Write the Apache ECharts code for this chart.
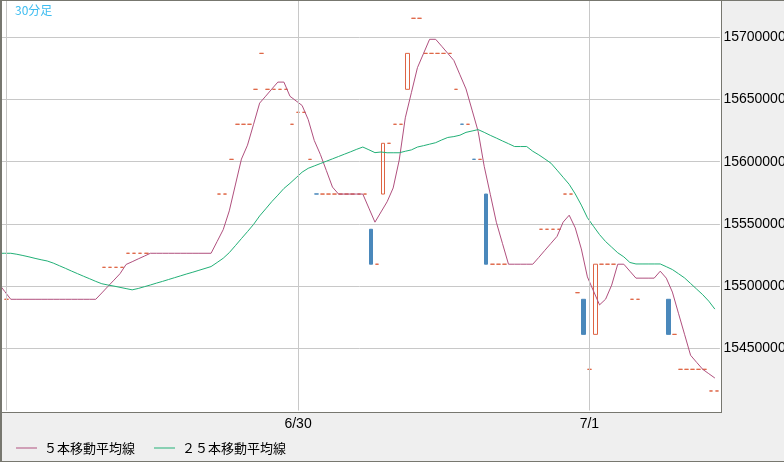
<!DOCTYPE html>
<html><head><meta charset="utf-8">
<script src="https://cdn.jsdelivr.net/npm/echarts@6/dist/echarts.min.js"></script>
<style>html,body{margin:0;padding:0;background:#efefef}#c{width:784px;height:462px}</style>
</head><body><div id="c"></div>
<script>
// 30-minute bars, 6/28 23:30 .. 7/1 10:30 (119 bars)
function pad(n){return (n<10?'0':'')+n;}
const startTime = Date.UTC(2025,5,28,23,30);
const categories = [];
for (let i=0;i<119;i++){const d=new Date(startTime+i*1800000);categories.push((d.getUTCMonth()+1)+'/'+d.getUTCDate()+' '+pad(d.getUTCHours())+':'+pad(d.getUTCMinutes()));}
const tickCats = ['6/30 00:00','7/1 00:00'];
const gridCats = ['6/29 00:00','6/30 00:00','7/1 00:00'];
const yTicks = [15450000,15500000,15550000,15600000,15650000,15700000];

const N = null;
const opens = [N,15489400,
N,N,N,N,N,N,N,N,N,N,N,N,N,N,N,
15515100,15515100,15515100,15515100,
15526400,15526400,15526400,15526400,
N,N,N,N,N,N,N,N,N,N,N,
15574000,15574000,15601900,15630100,15630100,15630100,15658200,
15687100,15658200,15658200,15658200,15658200,15630100,
15639700,15639700,15601900,15574100,15574000,15574000,15574000,15574000,15574000,15574000,15574000,15574000,
15545700,15517600,15574000,15614800,15630100,15630100,15658200,15715300,15715300,
15687100,15687100,15687100,15687100,15687100,15658200,15630200,15630100,15602000,15601900,
15574000,15517600,15517600,15517600,N,N,N,N,N,
15545700,15545700,15545700,15545700,15574000,15574000,15494700,15489400,15433100,15461200,
15517600,15517600,15517600,N,N,15489400,15489400,N,N,N,N,
15489400,15461200,15433100,15433100,15433100,15433100,15433100,15415700,15415700];
const closes = [N,15489400,
N,N,N,N,N,N,N,N,N,N,N,N,N,N,N,
15515100,15515100,15515100,15515100,
15526400,15526400,15526400,15526400,
N,N,N,N,N,N,N,N,N,N,N,
15574000,15574000,15601900,15630100,15630100,15630100,15658200,
15687100,15658200,15658200,15658200,15658200,15630100,
15639700,15639700,15601900,15574000,15574000,15574000,15574000,15574000,15574000,15574000,15574000,15574000,
15517600,15517600,15614800,15614800,15630100,15630100,15687100,15715300,15715300,
15687100,15687100,15687100,15687100,15687100,15658200,15630100,15630100,15601900,15601900,
15517600,15517600,15517600,15517600,N,N,N,N,N,
15545700,15545700,15545700,15545700,15574000,15574000,15494700,15461200,15433100,15517600,
15517600,15517600,15517600,N,N,15489400,15489400,N,N,N,N,
15461200,15461200,15433100,15433100,15433100,15433100,15433100,15415700,15415700];
const ma5 = [15502100,15495700,
15489400,15489400,15489400,15489400,15489400,15489400,15489400,15489400,15489400,15489400,15489400,15489400,15489400,15489400,15489400,
15494500,15499700,15504800,15510000,
15517400,15519600,15521900,15524100,
15526400,15526400,15526400,15526400,15526400,15526400,15526400,15526400,15526400,15526400,15526400,
15535900,15545400,15560500,15581300,15602100,15613300,15630100,
15647100,15652700,15658400,15664000,15664000,15652600,
15648900,15645200,15633900,15617100,15605900,15592800,15579600,
15574000,15574000,15574000,15574000,15574000,
15562700,15551400,15559600,15567800,15578900,15601400,15635300,15655500,15675600,15687000,15698400,15698400,15692800,15687100,15681400,15669900,15658500,15641500,15624400,15596300,15573800,15551300,15534400,
15517600,15517600,15517600,15517600,15517600,
15523100,15528800,15534400,15540000,15551400,15557000,15546800,15529900,15507400,15496100,15484900,15489500,15500800,15517600,15517600,15512000,
15506400,15506400,15506400,15506400,
15512000,15506400,15495200,15478200,15461300,15444400,15438700,15433100,15429600,15426100];
const ma25 = [15526400,15526400,15526400,15525600,15524600,15523500,15522300,15521200,15520200,15518500,
15516400,15514300,15512100,15510000,15507900,15505900,15503800,15501900,15500900,15500000,
15499000,15498000,15497000,15498100,15499500,15500900,15502400,15503800,15505300,15506800,
15508300,15509800,15511200,15512700,15514200,15515700,15519000,15522400,15526900,15532500,
15538200,15543800,15549600,15556400,15562100,15567900,15573100,15578500,15582600,15587100,
15591600,15594700,15596600,15598500,15600400,15602300,15604200,15606100,15608000,15610000,
15611800,15609600,15607300,15607800,15607200,15607200,15607200,15608400,15609500,15611800,
15612900,15614100,15615300,15617500,15619500,15620200,15621300,15623600,15624700,15625800,
15623600,15621200,15619000,15616700,15614500,15612200,15612200,15612200,15608400,15605500,
15602200,15598800,15593200,15587500,15581800,15574100,15565100,15555000,15548100,15541400,
15535800,15531300,15526800,15523500,15519000,15517800,15517800,15517800,15517800,15517800,
15515600,15513300,15510000,15506600,15502100,15497600,15493100,15487900,15481500];

const ORANGE = '#de6444', BLUE = '#4a88bb', PINK = '#b0507e', GREEN = '#22b077';
const candleData = opens.map(function(o,i){
  const c = closes[i];
  if (o === null) return '-';
  const v = [o, c, Math.min(o,c), Math.max(o,c)];
  if (o === c) return {value: v, itemStyle: {borderColor: ORANGE, borderColor0: ORANGE, color: 'rgba(0,0,0,0)', color0: 'rgba(0,0,0,0)'}};
  return v;
});

const FONT_UI = 'Noto Sans CJK JP';
const chart = echarts.init(document.getElementById('c'), null, {renderer:'canvas'});
chart.setOption({
  animation: false,
  backgroundColor: '#efefef',
  title: {text: '30分足', left: 15, top: 4, padding: 0, textStyle: {color: '#3cbcf0', fontSize: 12, fontWeight: 'normal', fontFamily: FONT_UI}},
  legend: {data: [{name:'５本移動平均線', itemStyle:{color:PINK}}, {name:'２５本移動平均線', itemStyle:{color:GREEN}}],
    left: 16, top: 441.5, padding: 0, icon: 'rect', itemWidth: 21, itemHeight: 1, itemGap: 19,
    textStyle: {color: '#000', fontSize: 13, fontFamily: FONT_UI, padding: [0,0,0,2]}},
  graphic: [
    {type:'rect', z:-1, silent:true, shape:{x:2,y:1,width:719.5,height:411.5}, style:{fill:'#fff'}},
    {type:'rect', z:100, silent:true, shape:{x:0,y:0,width:2,height:462}, style:{fill:'#77776f'}},
    {type:'rect', z:100, silent:true, shape:{x:0,y:0,width:784,height:1}, style:{fill:'#77776f'}},
    {type:'rect', z:100, silent:true, shape:{x:721,y:0,width:1,height:413}, style:{fill:'#77776f'}},
    {type:'rect', z:100, silent:true, shape:{x:0,y:412,width:722,height:1}, style:{fill:'#77776f'}},
    {type:'rect', z:100, silent:true, shape:{x:0,y:461,width:784,height:1}, style:{fill:'#77776f'}}
  ],
  grid: [
    {left: -2.4, right: 64.1, top: 0, bottom: 51.5, containLabel: false, outerBoundsMode: 'none'},
    {left: -4.4, right: 66.1, top: 0, bottom: 51.5, containLabel: false, outerBoundsMode: 'none'}
  ],
  xAxis: [
    {type:'category', gridIndex:0, data: categories, boundaryGap: true,
      axisLine:{show:false}, axisTick:{show:false}, splitLine:{show:false},
      axisLabel:{interval: function(i, v){return tickCats.indexOf(v) >= 0;}, formatter: function(v){return v.split(' ')[0];},
        color:'#000', fontSize:14, fontFamily:'Liberation Sans', margin:7}},
    {type:'category', gridIndex:1, data: categories, boundaryGap: true, show:false}
  ],
  yAxis: [
    {type:'value', gridIndex:0, position:'right', min:15400000, max:15730000, interval:50000, scale:true,
      axisLine:{show:false}, axisTick:{show:false},
      splitLine:{show:true, lineStyle:{color:['rgba(0,0,0,0)','#c8c8c8','#c8c8c8','#c8c8c8','#c8c8c8','#c8c8c8','#c8c8c8','rgba(0,0,0,0)'], width:1}},
      axisLabel:{showMinLabel:false, showMaxLabel:false, color:'#000', fontSize:14, fontFamily:'Liberation Sans', margin:3.5,
        formatter: function(v){return yTicks.indexOf(v) >= 0 ? String(v) : '';}}},
    {type:'value', gridIndex:1, min:15400000, max:15730000, show:false, scale:true}
  ],
  series: [
    {type:'line', name:'grid', xAxisIndex:0, yAxisIndex:0, data:[], z:1, silent:true,
      markLine:{symbol:['none','none'], silent:true, animation:false, label:{show:false},
        lineStyle:{color:'#c8c8c8', type:'solid', width:1},
        data: gridCats.map(function(c){return {xAxis:c};})}},
    {type:'candlestick', name:'30分足', xAxisIndex:0, yAxisIndex:0, data: candleData, barWidth: 4, z:2,
      itemStyle:{color:'rgba(0,0,0,0)', color0: BLUE, borderColor: ORANGE, borderColor0: BLUE, borderWidth:1}},
    {type:'line', name:'５本移動平均線', xAxisIndex:1, yAxisIndex:1, data: ma5, color: PINK, symbol:'none', z:3,
      lineStyle:{color: PINK, width:1}},
    {type:'line', name:'２５本移動平均線', xAxisIndex:1, yAxisIndex:1, data: ma25, color: GREEN, symbol:'none', z:3,
      lineStyle:{color: GREEN, width:1}}
  ]
});
</script></body></html>
